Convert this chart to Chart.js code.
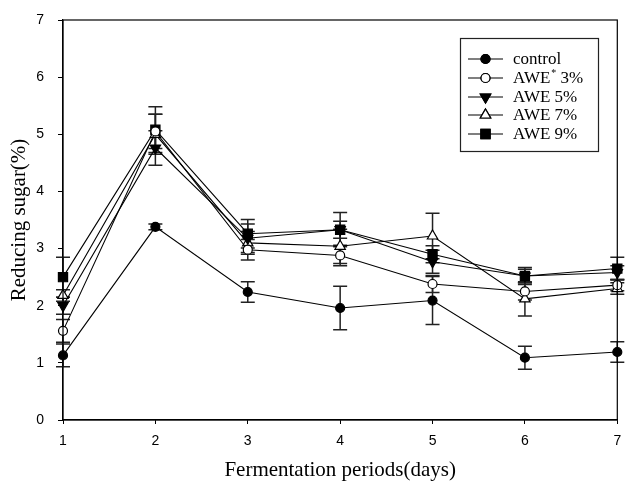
<!DOCTYPE html>
<html>
<head>
<meta charset="utf-8">
<script src="https://cdn.jsdelivr.net/npm/chart.js@4/dist/chart.umd.min.js"></script>
<style>
html,body{margin:0;padding:0;background:#fff;}
#wrap{width:625px;height:483px;}
</style>
</head>
<body>
<div id="wrap"><canvas id="c" width="625" height="483"></canvas></div>
<script>
const days = [1, 2, 3, 4, 5, 6, 7];
const seriesNames = ["control", "AWE* 3%", "AWE 5%", "AWE 7%", "AWE 9%"];
const control = [1.13, 3.38, 2.24, 1.96, 2.09, 1.09, 1.19];
const awe3 = [1.56, 5.05, 2.98, 2.88, 2.38, 2.25, 2.36];
const awe5 = [2.00, 4.76, 3.18, 3.33, 2.77, 2.52, 2.58];
const awe7 = [2.18, 5.00, 3.10, 3.04, 3.22, 2.12, 2.30];
const awe9 = [2.50, 5.08, 3.26, 3.33, 2.90, 2.52, 2.65];
const controlErr = [0.20, 0.05, 0.18, 0.38, 0.42, 0.20, 0.18];
const awe3Err = [0.20, 0.30, 0.18, 0.18, 0.15, 0.15, 0.10];
const awe5Err = [0.15, 0.30, 0.25, 0.15, 0.20, 0.12, 0.12];
const awe7Err = [0.10, 0.35, 0.20, 0.30, 0.40, 0.30, 0.10];
const awe9Err = [0.35, 0.40, 0.25, 0.30, 0.15, 0.15, 0.20];
const yTicks = [0, 1, 2, 3, 4, 5, 6, 7];
const xTicks = [1, 2, 3, 4, 5, 6, 7];

const values = [control, awe3, awe5, awe7, awe9];
const errs = [controlErr, awe3Err, awe5Err, awe7Err, awe9Err];
const styles = [
  {pointStyle: 'circle', bg: '#000', r: 4.5, rot: 0},
  {pointStyle: 'circle', bg: '#fff', r: 4.5, rot: 0},
  {pointStyle: 'triangle', bg: '#000', r: 6, rot: 180},
  {pointStyle: 'triangle', bg: '#fff', r: 6, rot: 0},
  {pointStyle: 'rect', bg: '#000', r: 6.5, rot: 0}
];

const datasets = values.map((vals, i) => ({
  label: seriesNames[i],
  data: days.map((d, j) => ({x: d, y: vals[j]})),
  errors: errs[i],
  borderColor: '#000',
  borderWidth: 1.1,
  backgroundColor: styles[i].bg,
  pointStyle: styles[i].pointStyle,
  pointRotation: styles[i].rot,
  pointRadius: styles[i].r,
  pointBackgroundColor: styles[i].bg,
  pointBorderColor: '#000',
  pointBorderWidth: 1.2,
  tension: 0,
  clip: false
}));

const errorBars = {
  id: 'errorBars',
  beforeDatasetsDraw(chart) {
    const ctx = chart.ctx;
    const xs = chart.scales.x, ys = chart.scales.y;
    ctx.save();
    ctx.strokeStyle = '#222';
    ctx.lineWidth = 1.5;
    chart.data.datasets.forEach(ds => {
      ds.data.forEach((p, j) => {
        const e = ds.errors[j];
        const px = xs.getPixelForValue(p.x);
        const top = ys.getPixelForValue(p.y + e);
        const bot = ys.getPixelForValue(p.y - e);
        ctx.beginPath();
        ctx.moveTo(px, top); ctx.lineTo(px, bot);
        ctx.moveTo(px - 7, top); ctx.lineTo(px + 7, top);
        ctx.moveTo(px - 7, bot); ctx.lineTo(px + 7, bot);
        ctx.stroke();
      });
    });
    ctx.restore();
  }
};

const frameAndLegend = {
  id: 'frameAndLegend',
  afterDraw(chart) {
    const ctx = chart.ctx;
    const a = chart.chartArea;
    ctx.save();
    ctx.strokeStyle = '#000';
    ctx.lineWidth = 1.2;
    ctx.strokeRect(a.left, a.top, a.right - a.left, a.bottom - a.top);
    // legend box
    const bx = 460, by = 38, bw = 138, bh = 113;
    ctx.fillStyle = '#fff';
    ctx.fillRect(bx, by, bw, bh);
    ctx.strokeStyle = '#222';
    ctx.lineWidth = 1.2;
    ctx.strokeRect(bx + 0.5, by + 0.5, bw, bh);
    const rows = [59, 78, 97, 115, 134];
    chart.data.datasets.forEach((ds, i) => {
      const y = rows[i];
      ctx.strokeStyle = '#000';
      ctx.lineWidth = 1.2;
      ctx.beginPath();
      ctx.moveTo(468, y); ctx.lineTo(503, y);
      ctx.stroke();
      Chart.helpers.drawPoint(ctx, {
        pointStyle: ds.pointStyle,
        rotation: ds.pointRotation,
        radius: ds.pointRadius,
        borderWidth: 1.2
      }, 485.5, y);
      ctx.fillStyle = ds.pointBackgroundColor;
      ctx.strokeStyle = '#000';
      ctx.lineWidth = 1.2;
      ctx.fill();
      ctx.stroke();
      ctx.fillStyle = '#000';
      ctx.font = '17px "Liberation Serif", "Times New Roman", serif';
      ctx.textBaseline = 'middle';
      ctx.textAlign = 'left';
      const name = ds.label;
      if (name.indexOf('*') >= 0) {
        const parts = name.split('*');
        ctx.fillText(parts[0], 513, y + 1);
        let w = ctx.measureText(parts[0]).width;
        ctx.font = '10px "Liberation Serif", serif';
        ctx.fillText('*', 513 + w + 1, y - 5);
        const w2 = ctx.measureText('*').width;
        ctx.font = '17px "Liberation Serif", "Times New Roman", serif';
        ctx.fillText(parts[1], 513 + w + w2 + 1, y + 1);
      } else {
        ctx.fillText(name, 513, y + 1);
      }
    });
    ctx.restore();
  }
};

new Chart(document.getElementById('c'), {
  type: 'line',
  data: {datasets},
  plugins: [errorBars, frameAndLegend],
  options: {
    responsive: false,
    animation: false,
    devicePixelRatio: 1,
    layout: {padding: {top: 20, right: 2, left: 0, bottom: 0}},
    plugins: {legend: {display: false}, tooltip: {enabled: false}},
    scales: {
      x: {
        type: 'linear',
        min: 1, max: 7,
        afterFit(s) { s.height = 63; s.paddingRight = 0; s.paddingLeft = 0; },
        afterBuildTicks(s) { s.ticks = xTicks.map(v => ({value: v})); },
        ticks: {color: '#000', font: {family: '"Liberation Sans", Arial, sans-serif', size: 14}, padding: 9, maxRotation: 0},
        grid: {display: true, drawOnChartArea: false, drawTicks: true, tickLength: 4, color: '#000', tickColor: '#000'},
        border: {display: true, color: '#000', width: 1.2},
        title: {display: true, text: 'Fermentation periods(days)', color: '#000',
          font: {family: '"Liberation Serif", "Times New Roman", serif', size: 21}, padding: {top: 0, bottom: 0}}
      },
      y: {
        type: 'linear',
        min: 0, max: 7,
        afterFit(s) { s.width = 63; s.paddingTop = 0; s.paddingBottom = 0; },
        afterBuildTicks(s) { s.ticks = yTicks.map(v => ({value: v})); },
        ticks: {color: '#000', font: {family: '"Liberation Sans", Arial, sans-serif', size: 14}, padding: 14},
        grid: {display: true, drawOnChartArea: false, drawTicks: true, tickLength: 5, color: '#000', tickColor: '#000'},
        border: {display: true, color: '#000', width: 1.2},
        title: {display: true, text: 'Reducing sugar(%)', color: '#000',
          font: {family: '"Liberation Serif", "Times New Roman", serif', size: 21}, padding: {top: 7, bottom: 0}}
      }
    }
  }
});
</script>
</body>
</html>
